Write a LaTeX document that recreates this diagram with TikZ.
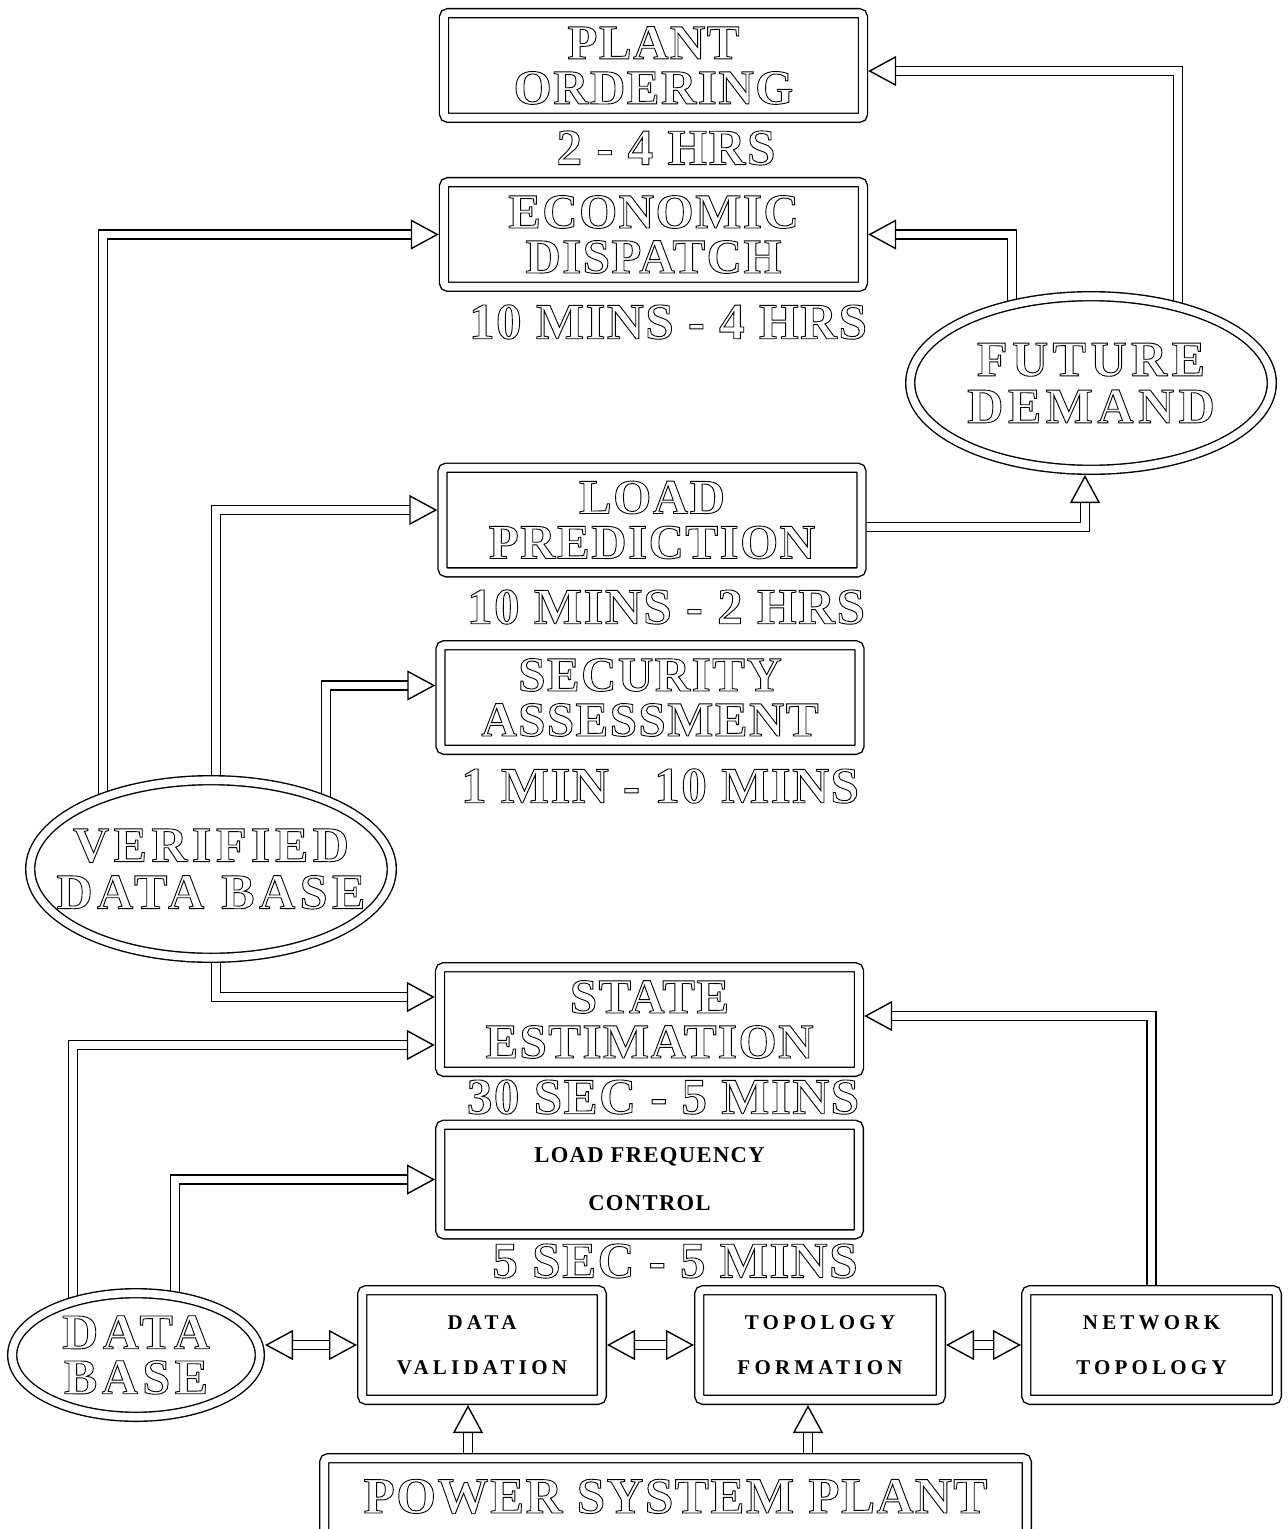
\documentclass[tikz,border=0pt]{standalone}
\usepackage{fontspec}
\setmainfont{Liberation Serif}
\newfontfamily\boxfont{Liberation Serif}[LetterSpace=3]
\newfontfamily\ovalfont{Liberation Serif}[LetterSpace=9]
\newfontfamily\smallfont{Liberation Serif}[LetterSpace=20]
\newfontfamily\lfcfont{Liberation Serif}[LetterSpace=6]
\usetikzlibrary{arrows.meta,positioning,calc,shapes.geometric}
\pgfdeclarelayer{background}
\pgfsetlayers{background,main}
% hollow (outlined) lettering
\newcommand\hollowtext[1]{\special{pdf:literal direct 1 Tr 0.45 w}#1\special{pdf:literal direct 0 Tr}}
\tikzset{
  dbl/.style={draw,line width=0.7pt,double,double distance=3.8pt},
  block/.style={dbl,rectangle,rounded corners=2pt,inner sep=0pt,outer sep=2.6pt,
    minimum width=209.5pt,minimum height=52.3pt,align=center,
    font=\boxfont\bfseries\fontsize{24.5}{22.5}\selectfont},
  small block/.style={block,minimum height=54.8pt,
    font=\smallfont\bfseries\fontsize{10.5}{22.5}\selectfont},
  oval/.style={dbl,ellipse,fill=white,inner xsep=-25pt,inner ysep=0pt,outer sep=2.6pt,align=center,
    font=\ovalfont\bfseries\fontsize{25}{23.5}\selectfont},
  timing/.style={inner sep=0pt,font=\boxfont\bfseries\fontsize{25.5}{25.5}\selectfont},
  tip/.tip={Triangle[open,fill=white,line width=0.7pt,length=14pt,width=15pt]},
  link/.style={dbl,-tip},
  both link/.style={dbl,tip-tip},
}
\begin{document}
\begin{tikzpicture}[x=0.5pt,y=-0.5pt]
\useasboundingbox (0,0) rectangle (1288,1529);
% upper column
\node[block] (po) at (653.5,65.5) {\hollowtext{PLANT\\ORDERING}};
\node[timing] (t1) at (666,148) {\hollowtext{2 - 4 HRS}};
\node[block] (ed) at (653.5,234.5) {\hollowtext{ECONOMIC\\DISPATCH}};
\node[timing] (t2) at (668,322) {\hollowtext{10 MINS - 4 HRS}};
\node[oval,minimum width=180.8pt,minimum height=86.8pt] (fd) at (1091,383) {\hollowtext{FUTURE\\DEMAND}};
\node[block] (lp) at (652,520) {\hollowtext{LOAD\\PREDICTION}};
\node[timing] (t3) at (666,607) {\hollowtext{10 MINS - 2 HRS}};
\node[block] (sa) at (650,697.5) {\hollowtext{SECURITY\\ASSESSMENT}};
\node[timing] (t4) at (660,786) {\hollowtext{1 MIN - 10 MINS}};
\node[oval,minimum width=180.8pt,minimum height=88.8pt] (vdb) at (211,869) {\hollowtext{VERIFIED\\DATA BASE}};
% lower column
\node[block] (se) at (649.5,1019.5) {\hollowtext{STATE\\ESTIMATION}};
\node[timing] (t5) at (663,1097) {\hollowtext{30 SEC - 5 MINS}};
\node[small block,minimum width=209.3pt,font=\lfcfont\bfseries\fontsize{11.3}{24}\selectfont] (lfc) at (649.5,1179.5) {LOAD FREQUENCY\\CONTROL};
\node[timing] (t6) at (675,1261) {\hollowtext{5 SEC - 5 MINS}};
\node[oval,minimum width=123.8pt,minimum height=61.8pt,font=\ovalfont\bfseries\fontsize{25}{22.5}\selectfont] (db) at (136,1355) {\hollowtext{DATA\\BASE}};
\node[small block,minimum width=119.8pt] (dv) at (482,1345) {DATA\\VALIDATION};
\node[small block,minimum width=120.8pt] (tf) at (820,1345) {TOPOLOGY\\FORMATION};
\node[small block,minimum width=125.3pt] (nt) at (1151.5,1345) {NETWORK\\TOPOLOGY};
\node[block,minimum width=351.3pt,minimum height=38.3pt,font=\boxfont\bfseries\fontsize{25.5}{25.5}\selectfont] (psp) at (675.5,1496.5) {\hollowtext{POWER SYSTEM PLANT}};
\coordinate (dvin) at ($(dv.south)+(-14,0)$);
\coordinate (tfin) at ($(tf.south)+(-12,0)$);
\begin{pgfonlayer}{background}
\draw[link] ($(vdb.center)+(-108,0)$) |- (ed.west);
\draw[link] ($(vdb.center)+(5,0)$) |- ($(lp.west)+(0,-10)$);
\draw[link] ($(vdb.center)+(115,0)$) |- ($(sa.west)+(0,-12)$);
\draw[link] ($(vdb.center)+(5,0)$) |- ($(se.west)+(0,-22.5)$);
\draw[link] ($(db.center)+(-63,0)$) |- ($(se.west)+(0,25.5)$);
\draw[link] ($(db.center)+(39,0)$) |- (lfc.west);
\draw[link] (nt.north) |- ($(se.east)+(0,-3.5)$);
\draw[link] ($(lp.east)+(0,7)$) -| ($(fd.south)+(-6,0)$);
\draw[link] ($(fd.center)+(-79,0)$) |- (ed.east);
\draw[link] ($(fd.center)+(87,0)$) |- ($(po.east)+(0,5.5)$);
\draw[link] (dvin |- psp.north) -- (dvin);
\draw[link] (tfin |- psp.north) -- (tfin);
\draw[both link] (dv.west -| db.east) -- (dv.west);
\draw[both link] (dv.east) -- (tf.west);
\draw[both link] (tf.east) -- (nt.west);
\end{pgfonlayer}
\end{tikzpicture}
\end{document}
